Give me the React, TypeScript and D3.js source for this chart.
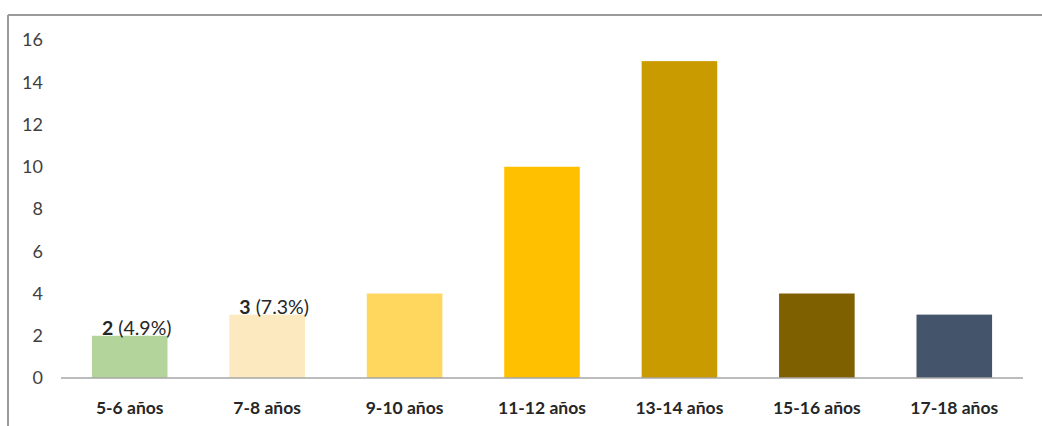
import React from "react";
import * as d3 from "d3";

const categories = ["5-6 años", "7-8 años", "9-10 años", "11-12 años", "13-14 años", "15-16 años", "17-18 años"];
const values = [2, 3, 4, 10, 15, 4, 3];
const colors = ["#b3d59b", "#fce9c0", "#ffd75e", "#ffc000", "#c99b00", "#7f6000", "#44546a"];
const yTicks = [0, 2, 4, 6, 8, 10, 12, 14, 16];
const dataLabels: { index: number; bold: string; rest: string }[] = [
  { index: 0, bold: "2", rest: " (4.9%)" },
  { index: 1, bold: "3", rest: " (7.3%)" },
];

const W = 1042;
const H = 426;
const margin = { left: 61, right: 19, top: 40, bottom: 48 };

export default function App() {
  const x = d3
    .scaleBand<string>()
    .domain(categories)
    .range([margin.left, W - margin.right])
    .paddingInner(0.45)
    .paddingOuter(0.225);
  const y = d3.scaleLinear().domain([0, 16]).range([H - margin.bottom, margin.top]);
  const font = "Lato, 'Open Sans', sans-serif";

  return (
    <svg
      width={W}
      height={H}
      style={{ position: "absolute", left: 0, top: 0, background: "#fff" }}
    >
      <line x1={8} y1={15} x2={W} y2={15} stroke="#9a9a9a" strokeWidth={2} />
      <line x1={8} y1={15} x2={8} y2={H} stroke="#9a9a9a" strokeWidth={2} />
      {yTicks.map((t) => (
        <text
          key={t}
          x={43}
          y={y(t)}
          dy="0.35em"
          textAnchor="end"
          fontFamily={font}
          fontSize={18}
          fill="#404040"
        >
          {t}
        </text>
      ))}
      {categories.map((c, i) => (
        <rect
          key={c}
          x={x(c)}
          y={y(values[i])}
          width={x.bandwidth()}
          height={y(0) - y(values[i])}
          fill={colors[i]}
        />
      ))}
      <line
        x1={margin.left}
        x2={W - margin.right}
        y1={y(0)}
        y2={y(0)}
        stroke="#a6a6a6"
        strokeWidth={1.5}
      />
      {categories.map((c) => (
        <text
          key={c}
          x={(x(c) as number) + x.bandwidth() / 2}
          y={414}
          textAnchor="middle"
          fontFamily={font}
          fontWeight="bold"
          fontSize={17.5}
          fill="#262626"
        >
          {c}
        </text>
      ))}
      {dataLabels.map((d) => (
        <text
          key={d.index}
          x={(x(categories[d.index]) as number) + x.bandwidth() / 2 + 7}
          y={y(values[d.index]) - 1}
          textAnchor="middle"
          fontFamily={font}
          fontSize={19.5}
          fill="#262626"
        >
          <tspan fontWeight="bold">{d.bold}</tspan>
          <tspan>{d.rest}</tspan>
        </text>
      ))}
    </svg>
  );
}
